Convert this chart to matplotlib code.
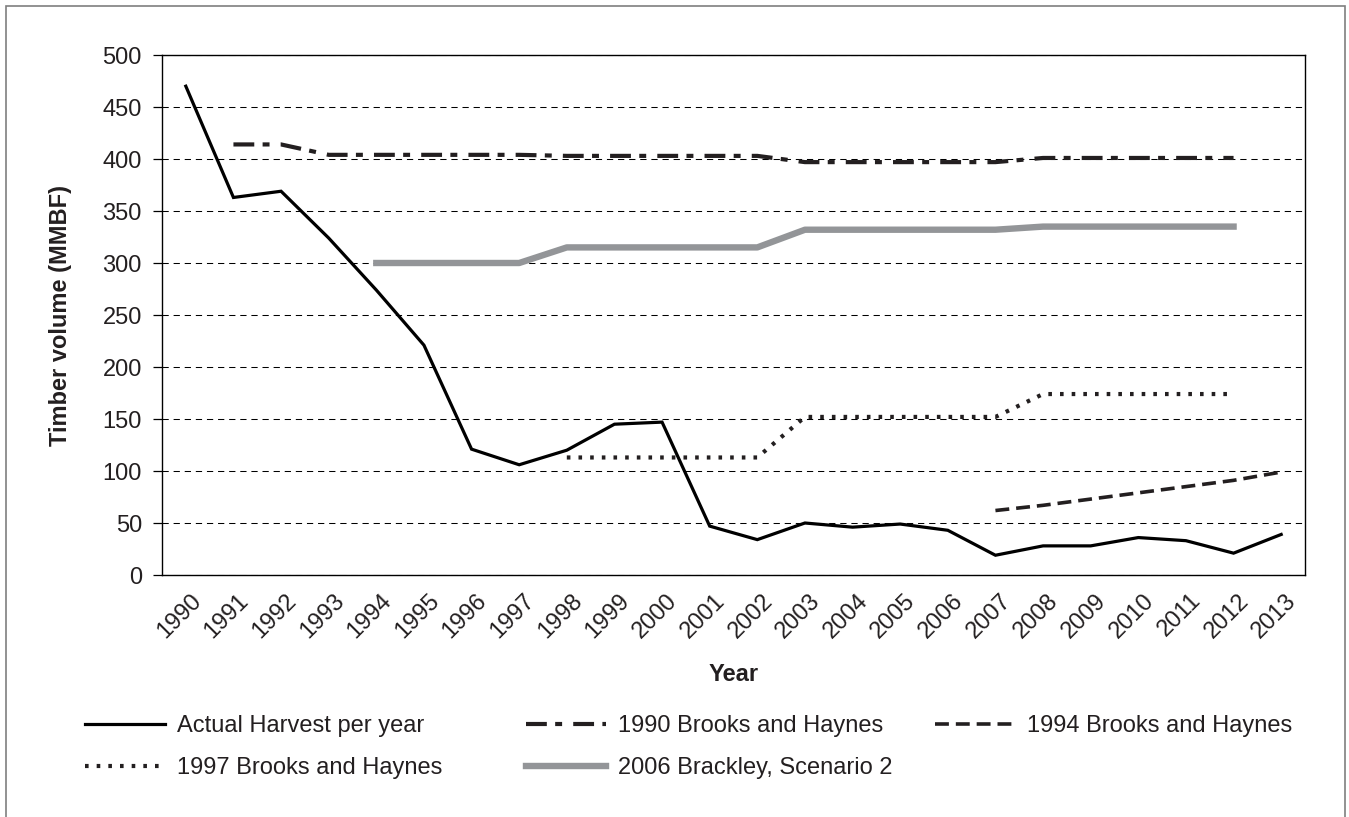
import numpy as np
import matplotlib
matplotlib.use('Agg')
from matplotlib import pyplot
from matplotlib.transforms import ScaledTranslation
from matplotlib.patches import Rectangle

pyplot.rcParams['font.family'] = ['Liberation Sans', 'DejaVu Sans']
pyplot.rcParams['lines.scale_dashes'] = False

nan = np.nan
years = list(range(1990, 2014))
actual = [470, 363, 369, 324, 274, 221, 121, 106, 120, 145, 147, 47,
          34, 50, 46, 49, 43, 19, 28, 28, 36, 33, 21, 39]
bh1990 = [nan, 414, 414, 404, 404, 404, 404, 404, 403, 403, 403, 403,
          403, 397, 397, 397, 397, 397, 401, 401, 401, 401, 401, nan]
bh1994 = [nan]*17 + [62, 67, 73, 79, 85, 91, 99]
bh1997 = [nan]*8 + [113, 113, 113, 113, 113, 152, 152, 152, 152, 152,
                    174, 174, 174, 174, 174, nan]
brackley = [nan]*4 + [300, 300, 300, 300, 315, 315, 315, 315, 315,
                      332, 332, 332, 332, 332, 335, 335, 335, 335, 335, nan]
labels = ['Actual Harvest per year', '1990 Brooks and Haynes',
          '1994 Brooks and Haynes', '1997 Brooks and Haynes',
          '2006 Brackley, Scenario 2']

fs = 17
tc = '#231f20'
fig = pyplot.figure(figsize=(13.49, 8.17), dpi=100)
ax = fig.add_axes([162/1349, 1-575/817, 1143/1349, 520/817])

x = np.arange(len(years))
l0, = ax.plot(x, actual, color='black', lw=2.3, solid_joinstyle='miter', zorder=5)
l1, = ax.plot(x, bh1990, color=tc, lw=3.0, dashes=(15, 6, 5, 8), zorder=4)
l2, = ax.plot(x, bh1994, color=tc, lw=2.6, dashes=(10, 5), zorder=4)
l3, = ax.plot(x, bh1997, color=tc, lw=3.0, dashes=(2.6, 5.8), zorder=4)
l4, = ax.plot(x, brackley, color='#939598', lw=4.6, zorder=3)

ax.set_xlim(-0.5, len(years)-0.5)
ax.set_ylim(0, 500)
ax.set_yticks(range(0, 501, 50))
ax.yaxis.grid(True, color='black', lw=0.75, dashes=(4.5, 3.5))
ax.set_axisbelow(True)
for s in ax.spines.values():
    s.set_linewidth(1.0)
    s.set_color('black')

ax.tick_params(axis='y', direction='out', length=6.5, width=0.9, pad=8,
               labelsize=fs, labelcolor=tc)
ax.tick_params(axis='x', length=0, pad=16, labelsize=fs, labelcolor=tc)
ax.set_xticks(x)
ax.set_xticklabels([str(y) for y in years], rotation=45, ha='right',
                   va='center', rotation_mode='anchor')
off = ScaledTranslation(12/100, 0, fig.dpi_scale_trans)
for lab in ax.get_xticklabels():
    lab.set_transform(lab.get_transform() + off)

ax.set_xlabel('Year', fontsize=fs, fontweight='bold', color=tc)
ax.xaxis.set_label_coords(0.5, -0.169)
ax.set_ylabel('Timber volume (MMBF)', fontsize=fs, fontweight='bold', color=tc)
ax.yaxis.set_label_coords(-0.079, 0.5)

# legend in three fixed columns, like the original
cols = [([l0, l3], [labels[0], labels[3]], 85),
        ([l1, l4], [labels[1], labels[4]], 526),
        ([l2], [labels[2]], 935)]
for hs, ls, xpx in cols:
    leg = fig.legend(hs, ls, loc='upper left',
                     bbox_to_anchor=(xpx/1349, 1-715/817), bbox_transform=fig.transFigure,
                     frameon=False, fontsize=fs, handlelength=3.4, handletextpad=0.5,
                     labelspacing=0.85, borderpad=0, borderaxespad=0)
    for t in leg.get_texts():
        t.set_color(tc)

fig.patches.append(Rectangle((6/1349, -0.05), 1339/1349, 1.05-6/817,
                             transform=fig.transFigure, fill=False,
                             edgecolor='#7f7f7f', lw=1.2))

fig.savefig('out.png', dpi=100)
